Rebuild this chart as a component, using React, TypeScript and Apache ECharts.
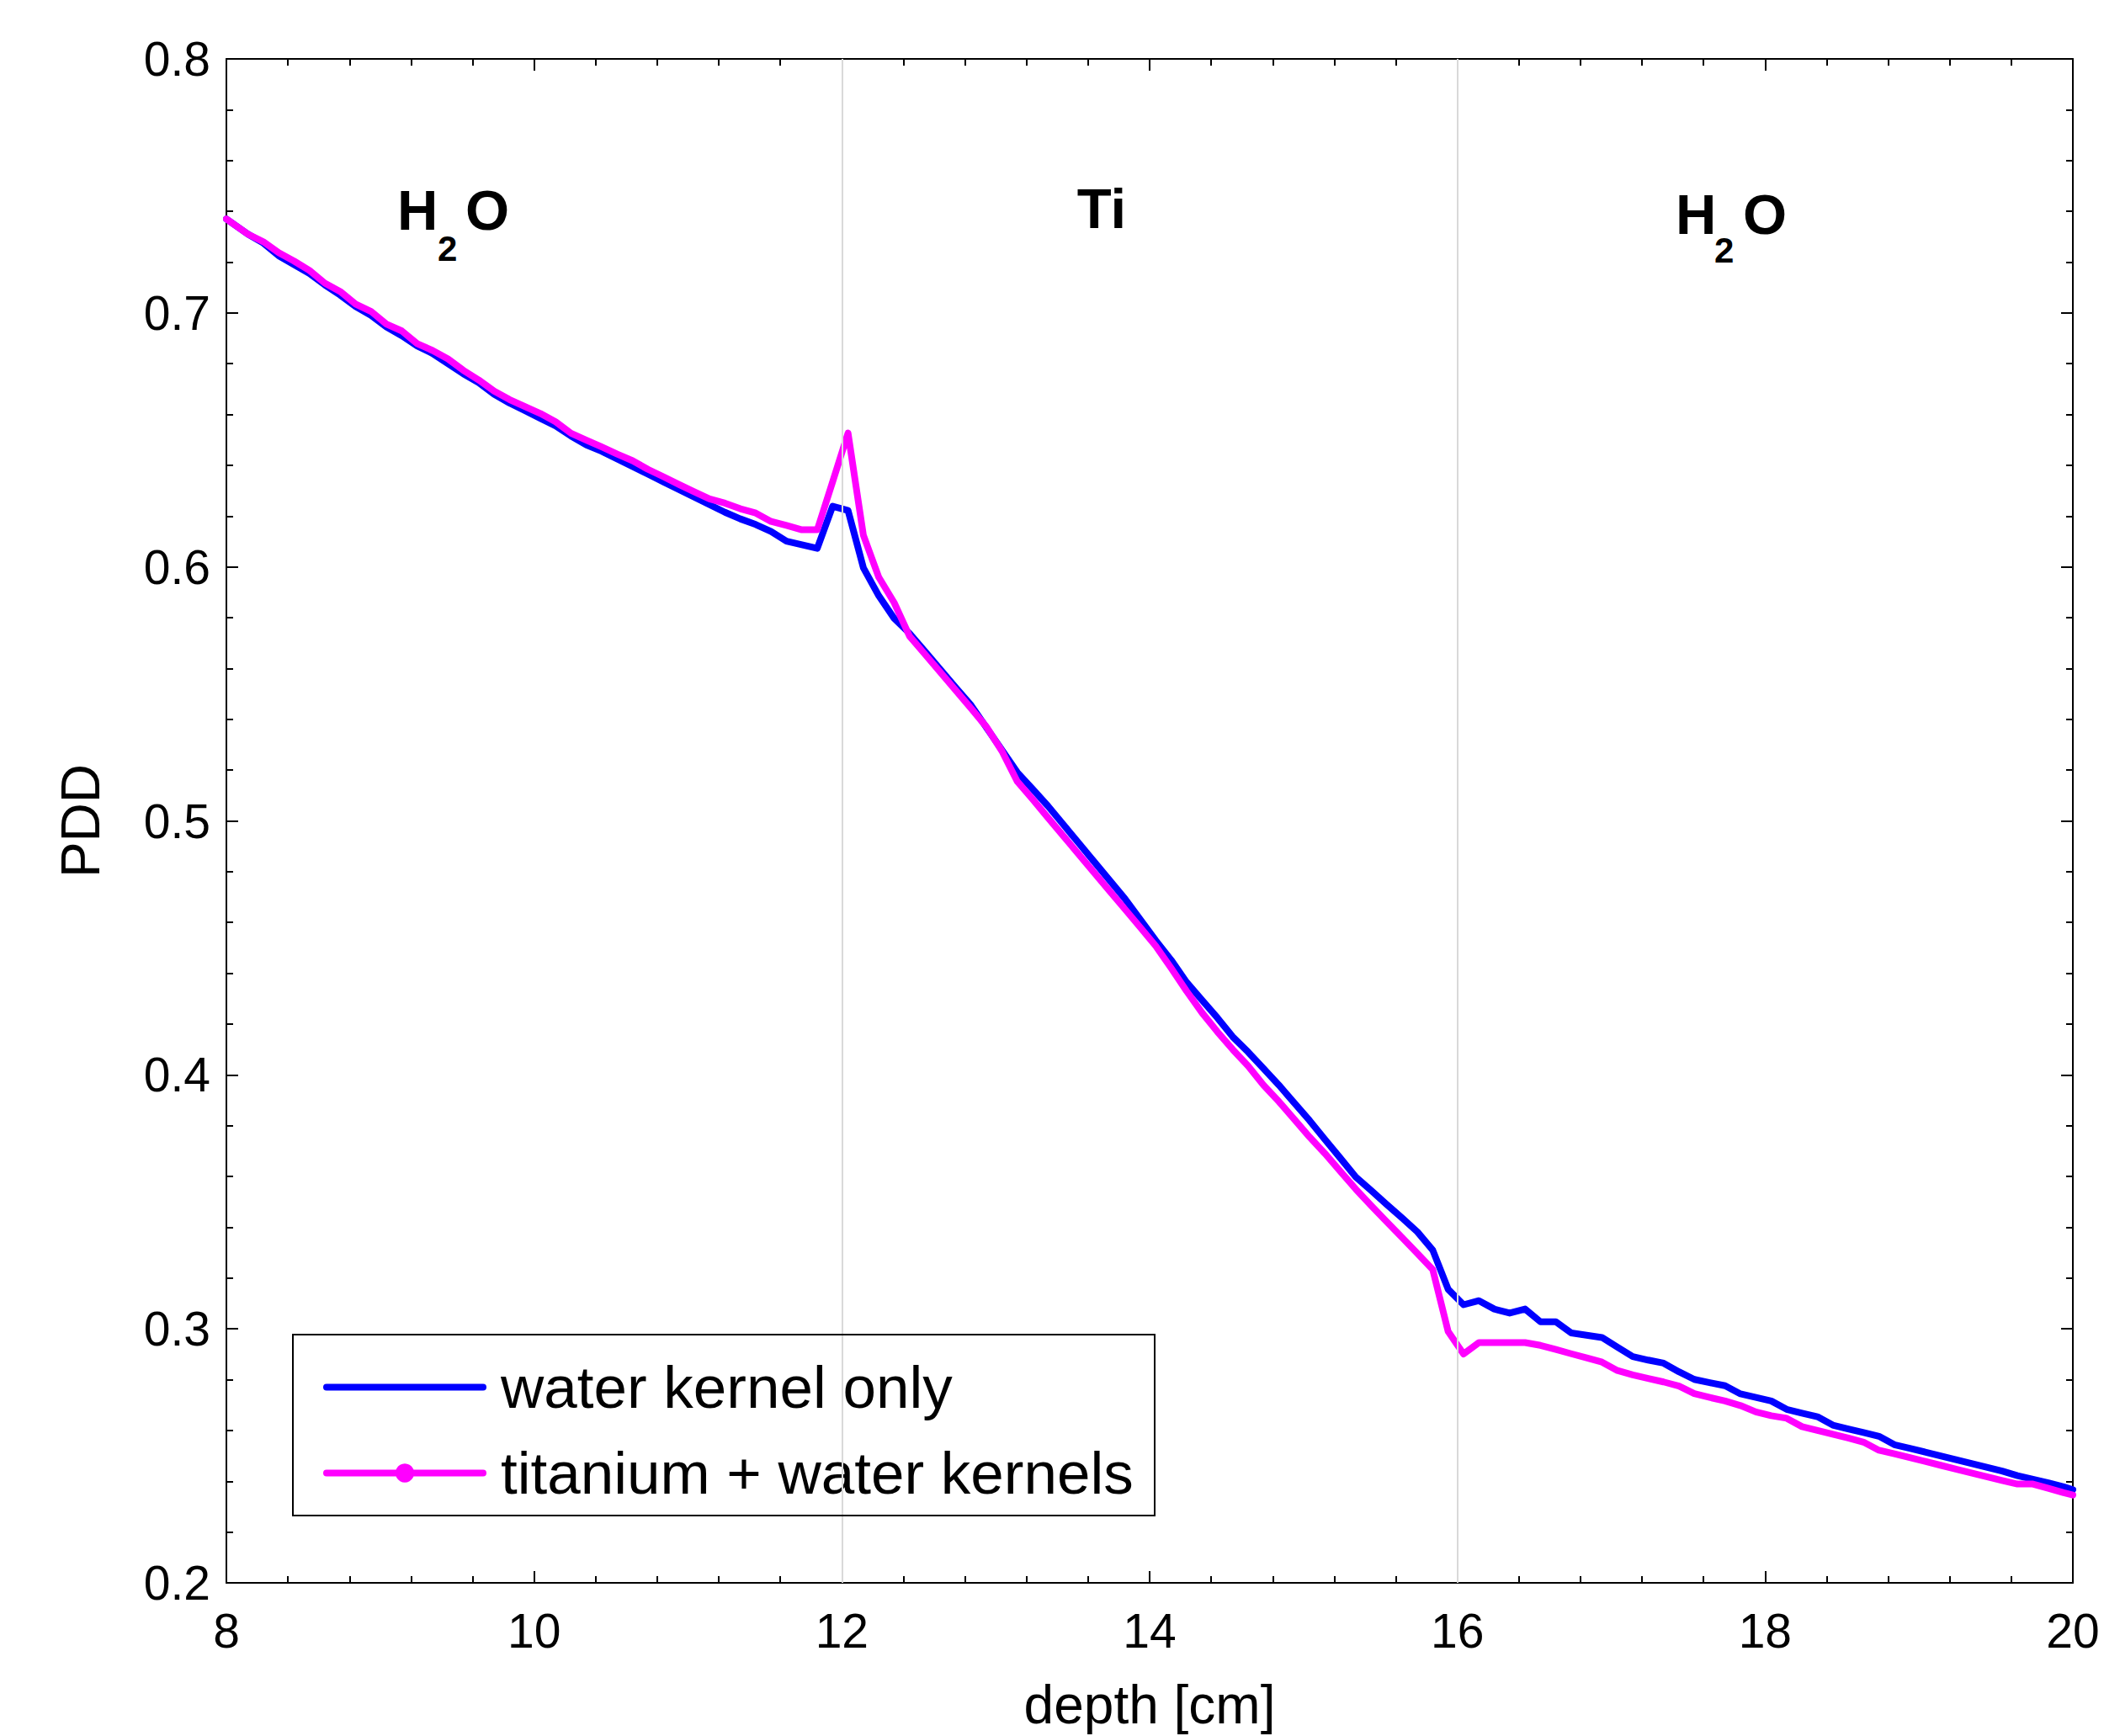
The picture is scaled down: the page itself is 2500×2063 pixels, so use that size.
import React, { useEffect, useRef } from "react";
import * as echarts from "echarts";

const depth = [
  8.0, 8.14, 8.24, 8.34, 8.44, 8.54, 8.64, 8.74, 8.84, 8.94,
  9.04, 9.14, 9.24, 9.34, 9.44, 9.54, 9.64, 9.74, 9.84, 9.94,
  10.04, 10.14, 10.24, 10.34, 10.44, 10.54, 10.64, 10.74, 10.84, 10.94,
  11.04, 11.14, 11.24, 11.34, 11.44, 11.54, 11.64, 11.74, 11.84, 11.94,
  12.04, 12.14, 12.24, 12.34, 12.44, 12.54, 12.64, 12.74, 12.84, 12.94,
  13.04, 13.14, 13.24, 13.34, 13.44, 13.54, 13.64, 13.74, 13.84, 13.94,
  14.04, 14.14, 14.24, 14.34, 14.44, 14.54, 14.64, 14.74, 14.84, 14.94,
  15.04, 15.14, 15.24, 15.34, 15.44, 15.54, 15.64, 15.74, 15.84, 15.94,
  16.04, 16.14, 16.24, 16.34, 16.44, 16.54, 16.64, 16.74, 16.84, 16.94,
  17.04, 17.14, 17.24, 17.34, 17.44, 17.54, 17.64, 17.74, 17.84, 17.94,
  18.04, 18.14, 18.24, 18.34, 18.44, 18.54, 18.64, 18.74, 18.84, 18.94,
  19.04, 19.14, 19.24, 19.34, 19.44, 19.54, 19.64, 19.74, 19.84, 19.94,
  20.0,
];

const waterKernelOnly = [
  0.737, 0.731, 0.7275, 0.7225, 0.719, 0.7155, 0.711, 0.707, 0.7025, 0.699,
  0.6945, 0.691, 0.687, 0.684, 0.68, 0.676, 0.6725, 0.668, 0.6645, 0.6615,
  0.6585, 0.6555, 0.6515, 0.648, 0.6455, 0.6425, 0.6395, 0.6365, 0.6335, 0.6305,
  0.6275, 0.6245, 0.6215, 0.6189, 0.6167, 0.6139, 0.6101, 0.6087, 0.6073, 0.6239,
  0.6222, 0.5996, 0.5886, 0.5797, 0.5738, 0.5667, 0.5596, 0.5525, 0.5455, 0.5367,
  0.5279, 0.5191, 0.5125, 0.5058, 0.4985, 0.4912, 0.4839, 0.4766, 0.4693, 0.4611,
  0.4529, 0.4452, 0.4365, 0.4295, 0.4225, 0.415, 0.409, 0.4025, 0.396, 0.389,
  0.382, 0.3745, 0.3672, 0.3598, 0.3545, 0.349, 0.3437, 0.3382, 0.331, 0.3156,
  0.3095, 0.3111, 0.3078, 0.3062, 0.3078, 0.3028, 0.3028, 0.2984, 0.2975, 0.2966,
  0.2928, 0.2891, 0.2877, 0.2865, 0.2831, 0.2801, 0.2788, 0.2776, 0.2744, 0.273,
  0.2716, 0.2683, 0.2668, 0.2654, 0.2621, 0.2606, 0.2592, 0.2577, 0.2544, 0.253,
  0.2515, 0.25, 0.2485, 0.247, 0.2455, 0.244, 0.2422, 0.2408, 0.2394, 0.2378,
  0.2367,
];

const titaniumWaterKernels = [
  0.737, 0.731, 0.728, 0.7237, 0.7204, 0.7167, 0.7117, 0.7084, 0.7035, 0.7006,
  0.6956, 0.6929, 0.6879, 0.6852, 0.6819, 0.6774, 0.6736, 0.6692, 0.6659, 0.6631,
  0.6604, 0.6571, 0.6526, 0.6499, 0.6472, 0.6444, 0.6418, 0.6384, 0.6355, 0.6325,
  0.6296, 0.6268, 0.6251, 0.6229, 0.6212, 0.6179, 0.6163, 0.6146, 0.6146, 0.6335,
  0.6527, 0.6124, 0.5959, 0.5859, 0.5727, 0.5656, 0.5585, 0.5514, 0.5443, 0.537,
  0.5275, 0.5155, 0.5085, 0.5012, 0.494, 0.4868, 0.4796, 0.4724, 0.4652, 0.458,
  0.4507, 0.442, 0.433, 0.4245, 0.417, 0.41, 0.4035, 0.396, 0.3895, 0.3825,
  0.3755, 0.369, 0.362, 0.355, 0.3485, 0.3422, 0.336, 0.3297, 0.3233, 0.299,
  0.2901, 0.2946, 0.2946, 0.2946, 0.2946, 0.2935, 0.2919, 0.2902, 0.2886, 0.2869,
  0.2836, 0.2819, 0.2805, 0.2791, 0.2775, 0.2745, 0.273, 0.2716, 0.2698, 0.2673,
  0.2658, 0.2648, 0.2615, 0.26, 0.2585, 0.257, 0.2554, 0.2522, 0.2508, 0.2493,
  0.2478, 0.2463, 0.2448, 0.2433, 0.2418, 0.2403, 0.2389, 0.2389, 0.2372, 0.2355,
  0.2346,
];

const seriesNames = ["water kernel only", "titanium + water kernels"];
const layerBoundaries = [12, 16];

const FONT = "'Liberation Sans', Arial, Helvetica, sans-serif";

export default function App() {
  const ref = useRef<HTMLDivElement>(null);

  useEffect(() => {
    document.body.style.margin = "0";
    const chart = echarts.init(ref.current as HTMLDivElement, null, { renderer: "svg" });

    const axisLine = { show: true, onZero: false, lineStyle: { color: "#000", width: 2 } };
    const axisTick = { show: true, inside: true, length: 14, lineStyle: { color: "#000", width: 2 } };
    const minorTick = { show: true, splitNumber: 5, length: 8, lineStyle: { color: "#000", width: 2 } };

    const bold = (text: string, x: number, y: number, size: number, align = "left") => ({
      type: "text",
      x,
      y,
      silent: true,
      z: 20,
      style: {
        text,
        fontSize: size,
        fontWeight: "bold",
        fontFamily: FONT,
        fill: "#000",
        align,
        verticalAlign: "middle",
      },
    });

    chart.setOption({
      animation: false,
      backgroundColor: "#fff",
      grid: { left: 269, right: 37, top: 70, bottom: 180 },
      xAxis: [
        {
          type: "value",
          min: 8,
          max: 20,
          interval: 2,
          position: "bottom",
          axisLine,
          axisTick,
          minorTick,
          splitLine: { show: false },
          axisLabel: { color: "#000", fontSize: 57, fontFamily: FONT, margin: 28 },
          name: "depth [cm]",
          nameLocation: "middle",
          nameGap: 113,
          nameTextStyle: { color: "#000", fontSize: 64, fontFamily: FONT },
        },
        {
          type: "value",
          min: 8,
          max: 20,
          interval: 2,
          position: "top",
          axisLine,
          axisTick,
          minorTick,
          splitLine: { show: false },
          axisLabel: { show: false },
        },
      ],
      yAxis: [
        {
          type: "value",
          min: 0.2,
          max: 0.8,
          interval: 0.1,
          position: "left",
          axisLine,
          axisTick,
          minorTick,
          splitLine: { show: false },
          axisLabel: {
            color: "#000",
            fontSize: 57,
            fontFamily: FONT,
            margin: 19,
            formatter: (v: number) => v.toFixed(1),
          },
          name: "PDD",
          nameLocation: "middle",
          nameGap: 141,
          nameRotate: 90,
          nameTextStyle: { color: "#000", fontSize: 64, fontFamily: FONT },
        },
        {
          type: "value",
          min: 0.2,
          max: 0.8,
          interval: 0.1,
          position: "right",
          axisLine,
          axisTick,
          minorTick,
          splitLine: { show: false },
          axisLabel: { show: false },
        },
      ],
      legend: {
        data: [
          { name: seriesNames[0], itemStyle: { opacity: 0 } },
          { name: seriesNames[1] },
        ],
        orient: "vertical",
        left: 384,
        top: 1613,
        itemWidth: 186,
        itemHeight: 28,
        itemGap: 31,
        padding: 0,
        selectedMode: false,
        lineStyle: { width: 8 },
        textStyle: { color: "#000", fontSize: 71, fontFamily: FONT, padding: [0, 0, 0, 16] },
      },
      series: [
        {
          type: "line",
          data: [],
          z: 1,
          silent: true,
          markLine: {
            silent: true,
            symbol: "none",
            label: { show: false },
            lineStyle: { color: "#d9d9d9", width: 2, type: "solid" },
            data: layerBoundaries.map((x) => ({ xAxis: x })),
          },
        },
        {
          name: seriesNames[0],
          type: "line",
          data: depth.map((d, i) => [d, waterKernelOnly[i]]),
          symbol: "none",
          z: 3,
          lineStyle: { color: "#0000ff", width: 8, join: "round", cap: "round" },
          itemStyle: { color: "#0000ff" },
        },
        {
          name: seriesNames[1],
          type: "line",
          data: depth.map((d, i) => [d, titaniumWaterKernels[i]]),
          symbol: "circle",
          symbolSize: 22,
          showSymbol: false,
          z: 4,
          lineStyle: { color: "#ff00ff", width: 8, join: "round", cap: "round" },
          itemStyle: { color: "#ff00ff" },
        },
      ],
      graphic: [
        {
          type: "rect",
          silent: true,
          z: 10,
          shape: { x: 348, y: 1586, width: 1024, height: 215 },
          style: { fill: "none", stroke: "#000", lineWidth: 2 },
        },
        bold("H", 472, 249, 67),
        bold("2", 520, 295, 42),
        bold("O", 553, 249, 67),
        bold("Ti", 1309, 247, 67, "center"),
        bold("H", 1991, 254, 67),
        bold("2", 2037, 297, 42),
        bold("O", 2071, 254, 67),
      ],
    });

    return () => chart.dispose();
  }, []);

  return <div ref={ref} style={{ width: 2500, height: 2063 }} />;
}
